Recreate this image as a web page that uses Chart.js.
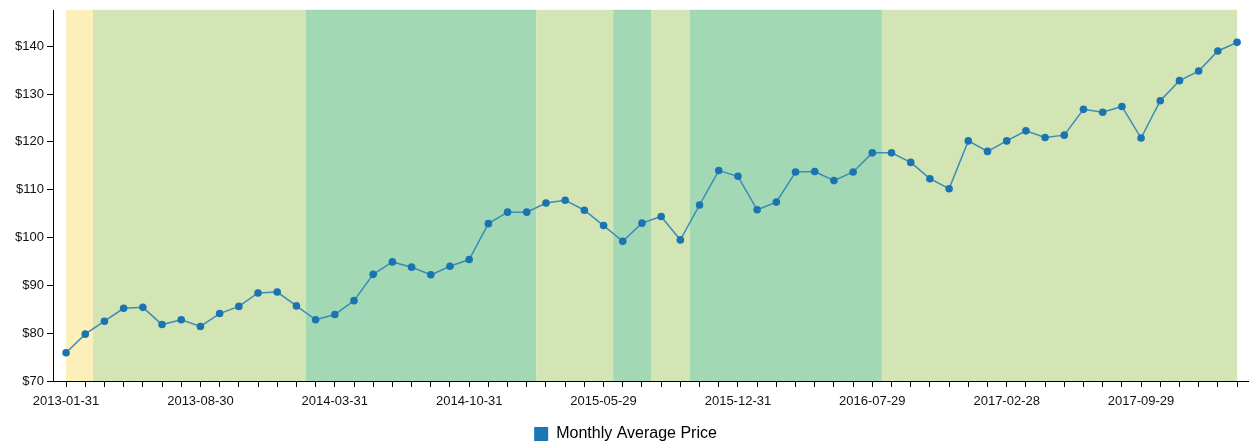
<!DOCTYPE html>
<html>
<head>
<meta charset="utf-8">
<script src="https://cdn.jsdelivr.net/npm/chart.js@4.4.1/dist/chart.umd.min.js"></script>
<style>
  html, body { margin: 0; padding: 0; background: #fff; }
  #wrap { width: 1252px; height: 442px; position: relative; }
</style>
</head>
<body>
<div id="wrap"><canvas id="myChart"></canvas></div>
<script>
// month-end (business day) dates
var dates = [
    '2013-01-31','2013-02-28','2013-03-29','2013-04-30','2013-05-31','2013-06-28','2013-07-31','2013-08-30','2013-09-30','2013-10-31','2013-11-29','2013-12-31',
    '2014-01-31','2014-02-28','2014-03-31','2014-04-30','2014-05-30','2014-06-30','2014-07-31','2014-08-29','2014-09-30','2014-10-31','2014-11-28','2014-12-31',
    '2015-01-30','2015-02-27','2015-03-31','2015-04-30','2015-05-29','2015-06-30','2015-07-31','2015-08-31','2015-09-30','2015-10-30','2015-11-30','2015-12-31',
    '2016-01-29','2016-02-29','2016-03-31','2016-04-29','2016-05-31','2016-06-30','2016-07-29','2016-08-31','2016-09-30','2016-10-31','2016-11-30','2016-12-30',
    '2017-01-31','2017-02-28','2017-03-31','2017-04-28','2017-05-31','2017-06-30','2017-07-31','2017-08-31','2017-09-29','2017-10-31','2017-11-30','2017-12-29',
    '2018-01-31','2018-02-28'
];

var prices = [
    75.9, 79.8, 82.5, 85.2, 85.4, 81.8, 82.8, 81.4, 84.1, 85.6, 88.4, 88.6,
    85.7, 82.8, 83.9, 86.8, 92.3, 94.9, 93.8, 92.2, 94.0, 95.4, 102.9, 105.3,
    105.3, 107.2, 107.8, 105.7, 102.5, 99.2, 103.0, 104.4, 99.5, 106.8, 114.0, 112.8,
    105.8, 107.4, 113.7, 113.8, 111.9, 113.7, 117.7, 117.7, 115.7, 112.3, 110.2, 120.2,
    118.0, 120.2, 122.3, 120.9, 121.4, 126.8, 126.2, 127.4, 120.8, 128.6, 132.8, 134.8,
    139.0, 140.8
];

// background regimes (in month index units)
var bandStart = [0, 1.4, 12.5, 24.5, 28.5, 30.5, 32.5, 42.5];
var bandEnd   = [1.4, 12.5, 24.5, 28.5, 30.5, 32.5, 42.5, 61];
var bandColor = ['#fdefb9', '#d3e4b5', '#a3d8b5', '#d3e4b5', '#a3d8b5', '#d3e4b5', '#a3d8b5', '#d3e4b5'];

var yTicks = [70, 80, 90, 100, 110, 120, 130, 140];
var labelEvery = 7;

var points = prices.map(function(p, i){ return {x: i, y: p}; });

var fontFamily = '"Liberation Sans", Arial, Helvetica, sans-serif';

var bandsPlugin = {
    id: 'bands',
    beforeDatasetsDraw: function(chart) {
        var ctx = chart.ctx, xs = chart.scales.x, area = chart.chartArea;
        ctx.save();
        for (var i = 0; i < bandStart.length; i++) {
            var x0 = xs.getPixelForValue(bandStart[i]);
            var x1 = xs.getPixelForValue(bandEnd[i]);
            ctx.fillStyle = bandColor[i];
            ctx.fillRect(x0, area.top - 1, x1 - x0, area.bottom - area.top + 1);
        }
        ctx.restore();
    }
};

var ctx = document.getElementById('myChart');
var myChart = new Chart(ctx, {
    type: 'line',
    data: {
        datasets: [{
            label: 'Monthly Average Price',
            data: points,
            borderColor: '#3a8db6',
            backgroundColor: '#1a74b2',
            borderWidth: 1.5,
            pointRadius: 3.8,
            pointBorderWidth: 0,
            pointBackgroundColor: '#1a74b2',
            tension: 0,
            fill: false
        }]
    },
    options: {
        responsive: true,
        maintainAspectRatio: false,
        animation: false,
        layout: { padding: { top: 8, right: 1, left: 0, bottom: -10 } },
        plugins: {
            tooltip: { enabled: false },
            legend: {
                position: 'bottom',
                labels: {
                    font: { family: fontFamily, size: 16 },
                    color: '#111',
                    boxWidth: 14,
                    boxHeight: 14,
                    padding: 1,
                    generateLabels: function(chart) {
                        return [{
                            text: 'Monthly Average Price',
                            fillStyle: '#1a77b5',
                            strokeStyle: '#1a77b5',
                            lineWidth: 0,
                            datasetIndex: 0
                        }];
                    }
                }
            }
        },
        scales: {
            x: {
                type: 'linear',
                min: -0.68,
                max: 61.57,
                border: { color: '#000', width: 1 },
                grid: { drawOnChartArea: false, drawTicks: true, tickLength: 6, color: '#000' },
                ticks: {
                    stepSize: 1,
                    includeBounds: false,
                    autoSkip: false,
                    maxRotation: 0,
                    padding: 7,
                    color: '#111',
                    font: { family: fontFamily, size: 13 },
                    callback: function(v) {
                        return (v % labelEvery === 0 && dates[v]) ? dates[v] : '';
                    }
                },
                afterFit: function(scale) { scale.height = 44; }
            },
            y: {
                min: 70,
                max: 147.4,
                border: { color: '#000', width: 1 },
                grid: { drawOnChartArea: false, drawTicks: true, tickLength: 6, color: '#000' },
                afterBuildTicks: function(scale) {
                    scale.ticks = yTicks.map(function(v){ return {value: v}; });
                },
                ticks: {
                    padding: 3,
                    color: '#111',
                    font: { family: fontFamily, size: 13 },
                    callback: function(v) { return '$' + v; }
                },
                afterFit: function(scale) { scale.width = 53; }
            }
        }
    },
    plugins: [bandsPlugin]
});
</script>
</body>
</html>
